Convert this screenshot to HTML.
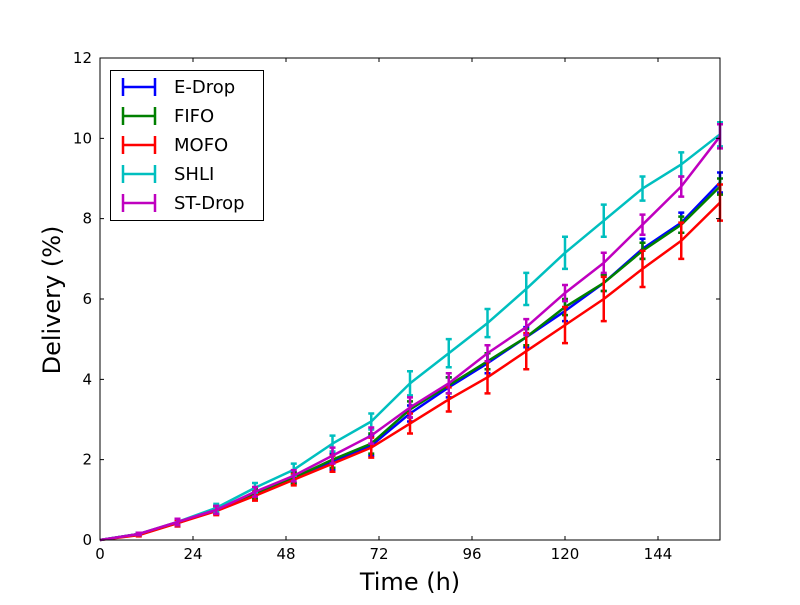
<!DOCTYPE html>
<html><head><meta charset="utf-8"><style>
body{margin:0;background:#fff;}
svg text{font-family:"DejaVu Sans","Liberation Sans",sans-serif;}
</style></head><body>
<svg id="chart" width="800" height="600" xmlns="http://www.w3.org/2000/svg">
<rect width="800" height="600" fill="#fff"/>
<g id="marks"></g>
<g id="axes"></g>
</svg>
<script>
const times = [0,10,20,30,40,50,60,70,80,90,100,110,120,130,140,150,160];
const seriesNames = ["E-Drop","FIFO","MOFO","SHLI","ST-Drop"];
const seriesColors = ["#0000ff","#008000","#ff0000","#00bfbf","#bf00bf"];
const eDrop = [0,0.15,0.42,0.75,1.15,1.55,1.95,2.35,3.15,3.8,4.4,5.05,5.7,6.4,7.25,7.9,8.9];
const fifo = [0,0.15,0.43,0.75,1.15,1.55,2.0,2.4,3.25,3.85,4.45,5.05,5.8,6.4,7.2,7.85,8.8];
const mofo = [0,0.12,0.42,0.72,1.1,1.5,1.9,2.3,2.9,3.5,4.05,4.7,5.35,6.0,6.75,7.45,8.4];
const shli = [0,0.15,0.45,0.8,1.3,1.75,2.4,2.95,3.9,4.65,5.4,6.25,7.15,7.95,8.75,9.35,10.1];
const stDrop = [0,0.15,0.45,0.75,1.2,1.6,2.1,2.6,3.3,3.9,4.65,5.3,6.15,6.9,7.85,8.8,10.05];
const eDropErr = [0,0.03,0.08,0.1,0.12,0.14,0.2,0.25,0.2,0.25,0.25,0.25,0.25,0.2,0.25,0.25,0.25];
const fifoErr = [0,0.03,0.08,0.1,0.12,0.14,0.2,0.25,0.2,0.2,0.2,0.2,0.2,0.2,0.2,0.2,0.2];
const mofoErr = [0,0.03,0.08,0.1,0.12,0.14,0.2,0.25,0.25,0.3,0.4,0.45,0.45,0.55,0.45,0.45,0.45];
const shliErr = [0,0.03,0.08,0.1,0.12,0.15,0.2,0.2,0.3,0.35,0.35,0.4,0.4,0.4,0.3,0.3,0.3];
const stDropErr = [0,0.03,0.08,0.1,0.12,0.14,0.2,0.2,0.25,0.25,0.2,0.2,0.2,0.25,0.25,0.25,0.3];
const xTicks = [0,24,48,72,96,120,144];
const yTicks = [0,2,4,6,8,10,12];

const L=100,R=720,T=58,B=540,XMAX=160,YMAX=12;
const sx=v=>L+v/XMAX*(R-L);
const sy=v=>B-v/YMAX*(B-T);
const NS="http://www.w3.org/2000/svg";
function mk(tag,attrs,parent){const e=document.createElementNS(NS,tag);for(const k in attrs)e.setAttribute(k,attrs[k]);parent.appendChild(e);return e;}
const marks=document.getElementById('marks'),axes=document.getElementById('axes');
const allVals=[eDrop,fifo,mofo,shli,stDrop],allErr=[eDropErr,fifoErr,mofoErr,shliErr,stDropErr];

allVals.forEach((vals,si)=>{
  const g=mk('g',{},marks);
  
  
  const c=seriesColors[si];
  vals.forEach((v,i)=>{
    const x=sx(times[i]),e=allErr[si][i];
    if(e>0){
      const eb=mk('path',{d:`M${x},${sy(v-e)}V${sy(v+e)}M${x-3},${sy(v-e)}H${x+3}M${x-3},${sy(v+e)}H${x+3}`,stroke:c,'stroke-width':2.5,fill:'none'},g);
      
      
    }
  });
  const line=mk('polyline',{points:vals.map((v,i)=>sx(times[i])+','+sy(v)).join(' '),stroke:c,'stroke-width':2.5,fill:'none','stroke-linejoin':'round'},g);
  
  
});

const frame=mk('rect',{x:L,y:T,width:R-L,height:B-T,fill:'none',stroke:'#000','stroke-width':1},axes);


xTicks.forEach(t=>{
  const x=sx(t);
  mk('path',{d:`M${x},${B}v-4M${x},${T}v4`,stroke:'#000'},axes);
  const tx=mk('text',{x:x,y:B+19,'font-size':15,'text-anchor':'middle'},axes);
  tx.textContent=t;
  
  
});
yTicks.forEach(t=>{
  const y=sy(t);
  mk('path',{d:`M${L},${y}h4M${R},${y}h-4`,stroke:'#000'},axes);
  const tx=mk('text',{x:L-8,y:y+5,'font-size':15,'text-anchor':'end'},axes);
  tx.textContent=t;
  
  
});
const xt=mk('text',{x:410,y:590,'font-size':24,'text-anchor':'middle'},axes);
xt.textContent='Time (h)';


const yt=mk('text',{x:60,y:300,'font-size':24,'text-anchor':'middle',transform:'rotate(-90 60 300)'},axes);
yt.textContent='Delivery (%)';



const lg=mk('g',{},axes);


mk('rect',{x:110.5,y:70.5,width:153,height:150,fill:'#fff',stroke:'#000'},lg);
seriesNames.forEach((n,i)=>{
  const y=87+i*29,c=seriesColors[i];
  const ent=mk('g',{},lg);
  
  
  mk('path',{d:`M123,${y}H155M123,${y-9}V${y+9}M155,${y-9}V${y+9}`,stroke:c,'stroke-width':2.5,fill:'none'},ent);
  const t=mk('text',{x:174,y:y+6,'font-size':18},ent);
  t.textContent=n;
});
</script>
</body></html>
